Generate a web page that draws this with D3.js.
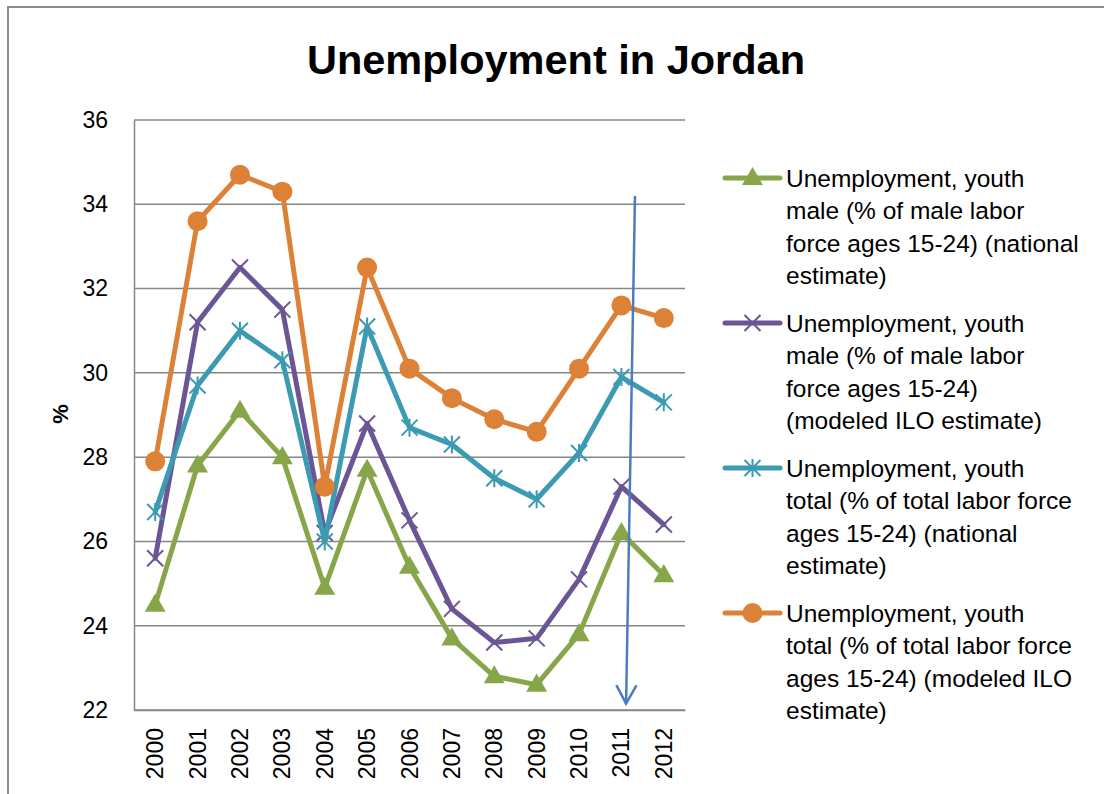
<!DOCTYPE html>
<html>
<head>
<meta charset="utf-8">
<script src="https://cdn.jsdelivr.net/npm/d3@7"></script>
<style>
  html, body { margin: 0; padding: 0; background: #fff; }
  svg { display: block; font-family: "Liberation Sans", Arial, sans-serif; }
</style>
</head>
<body>
<svg id="chart" width="1104" height="794"></svg>
<script>
// ---- data ----
const years = ["2000","2001","2002","2003","2004","2005","2006","2007","2008","2009","2010","2011","2012"];
const maleNational   = [24.5, 27.8, 29.1, 28.0, 24.9, 27.7, 25.4, 23.7, 22.8, 22.6, 23.8, 26.2, 25.2];
const maleILO        = [25.6, 31.2, 32.5, 31.5, 26.2, 28.8, 26.5, 24.4, 23.6, 23.7, 25.1, 27.3, 26.4];
const totalNational  = [26.7, 29.7, 31.0, 30.3, 26.0, 31.1, 28.7, 28.3, 27.5, 27.0, 28.1, 29.9, 29.3];
const totalILO       = [27.9, 33.6, 34.7, 34.3, 27.3, 32.5, 30.1, 29.4, 28.9, 28.6, 30.1, 31.6, 31.3];
const yTicks = [22, 24, 26, 28, 30, 32, 34, 36];
const seriesNames = [
  ["Unemployment, youth", "male (% of male labor", "force ages 15-24) (national", "estimate)"],
  ["Unemployment, youth", "male (% of male labor", "force ages 15-24)", "(modeled ILO estimate)"],
  ["Unemployment, youth", "total (% of total labor force", "ages 15-24) (national", "estimate)"],
  ["Unemployment, youth", "total (% of total labor force", "ages 15-24) (modeled ILO", "estimate)"]
];
const seriesColors = ["#87a64a", "#6b5595", "#3c9ab2", "#dd8137"];
const seriesMarkers = ["triangle", "x", "asterisk", "circle"];
const titleText = "Unemployment in Jordan";
const yLabel = "%";
// annotation arrow (in data terms)
const arrowYear = "2011", arrowFrom = 34.2, arrowTo = 22.15;

const seriesValues = [maleNational, maleILO, totalNational, totalILO];
const series = seriesValues.map((v, i) => ({
  name: seriesNames[i], color: seriesColors[i], marker: seriesMarkers[i],
  points: years.map((y, j) => ({year: y, value: v[j]}))
}));

// ---- layout ----
const svg = d3.select("#chart");
const plot = {left: 134, top: 120, right: 685, bottom: 710};

// outer frame
svg.append("rect").attr("x", 8).attr("y", 7).attr("width", 1120).attr("height", 820)
  .attr("fill", "none").attr("stroke", "#8c8c8c").attr("stroke-width", 2);

const x = d3.scaleBand().domain(years).range([plot.left, plot.right]);
const y = d3.scaleLinear().domain([22, 36]).range([plot.bottom, plot.top]);
const cx = d => x(d) + x.bandwidth() / 2;

// title
svg.append("text").attr("x", 556).attr("y", 74).attr("text-anchor", "middle")
  .attr("font-size", 41.5).attr("font-weight", "bold").attr("fill", "#000").text(titleText);

// gridlines
svg.append("g").selectAll("line").data(yTicks).join("line")
  .attr("x1", plot.left).attr("x2", plot.right)
  .attr("y1", d => y(d)).attr("y2", d => y(d))
  .attr("stroke", "#868686").attr("stroke-width", 1.5);

// y axis
const yAxis = svg.append("g").attr("transform", `translate(${plot.left},0)`)
  .call(d3.axisLeft(y).tickValues(yTicks).tickSize(0).tickPadding(26).tickFormat(d3.format("d")));
yAxis.select(".domain").attr("stroke", "#868686").attr("stroke-width", 1.5);
yAxis.selectAll("text").attr("font-size", 23).attr("fill", "#000").attr("font-family", "Liberation Sans, Arial, sans-serif");

// x axis
const xAxis = svg.append("g").attr("transform", `translate(0,${plot.bottom})`)
  .call(d3.axisBottom(x).tickSize(0).tickPadding(0));
xAxis.select(".domain").attr("stroke", "#868686").attr("stroke-width", 1.5);
xAxis.selectAll("text")
  .attr("font-size", 23).attr("fill", "#000").attr("font-family", "Liberation Sans, Arial, sans-serif")
  .attr("text-anchor", "end").attr("dy", "0.35em")
  .attr("transform", "translate(0,18) rotate(-90)")
  .attr("x", 0).attr("y", 0);

// y label
svg.append("text").attr("transform", "translate(68,414) rotate(-90)")
  .attr("text-anchor", "middle").attr("font-size", 22).attr("font-weight", "bold").text(yLabel);

// marker drawing
function drawMarker(g, type, color, px, py) {
  if (type === "triangle") {
    g.append("path").attr("d", d3.symbol(d3.symbolTriangle, 190)())
      .attr("transform", `translate(${px},${py + 1})`).attr("fill", color);
  } else if (type === "circle") {
    g.append("circle").attr("cx", px).attr("cy", py).attr("r", 10).attr("fill", color);
  } else if (type === "x") {
    const s = 8;
    g.append("path").attr("d", `M${px - s},${py - s}L${px + s},${py + s}M${px - s},${py + s}L${px + s},${py - s}`)
      .attr("stroke", color).attr("stroke-width", 2).attr("fill", "none");
  } else if (type === "asterisk") {
    const s = 8;
    g.append("path").attr("d", `M${px - s},${py - s}L${px + s},${py + s}M${px - s},${py + s}L${px + s},${py - s}M${px},${py - s - 1}L${px},${py + s + 1}`)
      .attr("stroke", color).attr("stroke-width", 2).attr("fill", "none");
  }
}

// series
const line = d3.line().x(d => cx(d.year)).y(d => y(d.value));
series.forEach(s => {
  const g = svg.append("g");
  g.append("path").datum(s.points).attr("d", line)
    .attr("fill", "none").attr("stroke", s.color).attr("stroke-width", 5)
    .attr("stroke-linejoin", "round").attr("stroke-linecap", "round");
  s.points.forEach(p => drawMarker(g, s.marker, s.color, cx(p.year), y(p.value)));
});

// arrow annotation
const ax1 = cx(arrowYear) + x.bandwidth() * 0.32, ay1 = y(arrowFrom);
const ax2 = cx(arrowYear) + x.bandwidth() * 0.11, ay2 = y(arrowTo);
const arrowColor = "#4a7dc0";
svg.append("line").attr("x1", ax1).attr("y1", ay1).attr("x2", ax2).attr("y2", ay2)
  .attr("stroke", arrowColor).attr("stroke-width", 2.5);
const ang = Math.atan2(ay2 - ay1, ax2 - ax1);
const hl = 21, ha = 0.5;
svg.append("path")
  .attr("d", `M${ax2 - hl * Math.cos(ang - ha)},${ay2 - hl * Math.sin(ang - ha)}L${ax2},${ay2}L${ax2 - hl * Math.cos(ang + ha)},${ay2 - hl * Math.sin(ang + ha)}`)
  .attr("stroke", arrowColor).attr("stroke-width", 2.5).attr("fill", "none");

// legend
const legend = svg.append("g");
const entryTop = 178, entryGap = 145, lineH = 32.6;
series.forEach((s, i) => {
  const yc = entryTop + i * entryGap;
  const g = legend.append("g");
  g.append("line").attr("x1", 725).attr("x2", 780).attr("y1", yc).attr("y2", yc)
    .attr("stroke", s.color).attr("stroke-width", 5).attr("stroke-linecap", "round");
  drawMarker(g, s.marker, s.color, 752.5, yc);
  s.name.forEach((t, k) => {
    g.append("text").attr("x", 786).attr("y", yc + k * lineH).attr("dy", "0.35em")
      .attr("font-size", 24.5).attr("fill", "#000").text(t);
  });
});
</script>
</body>
</html>
